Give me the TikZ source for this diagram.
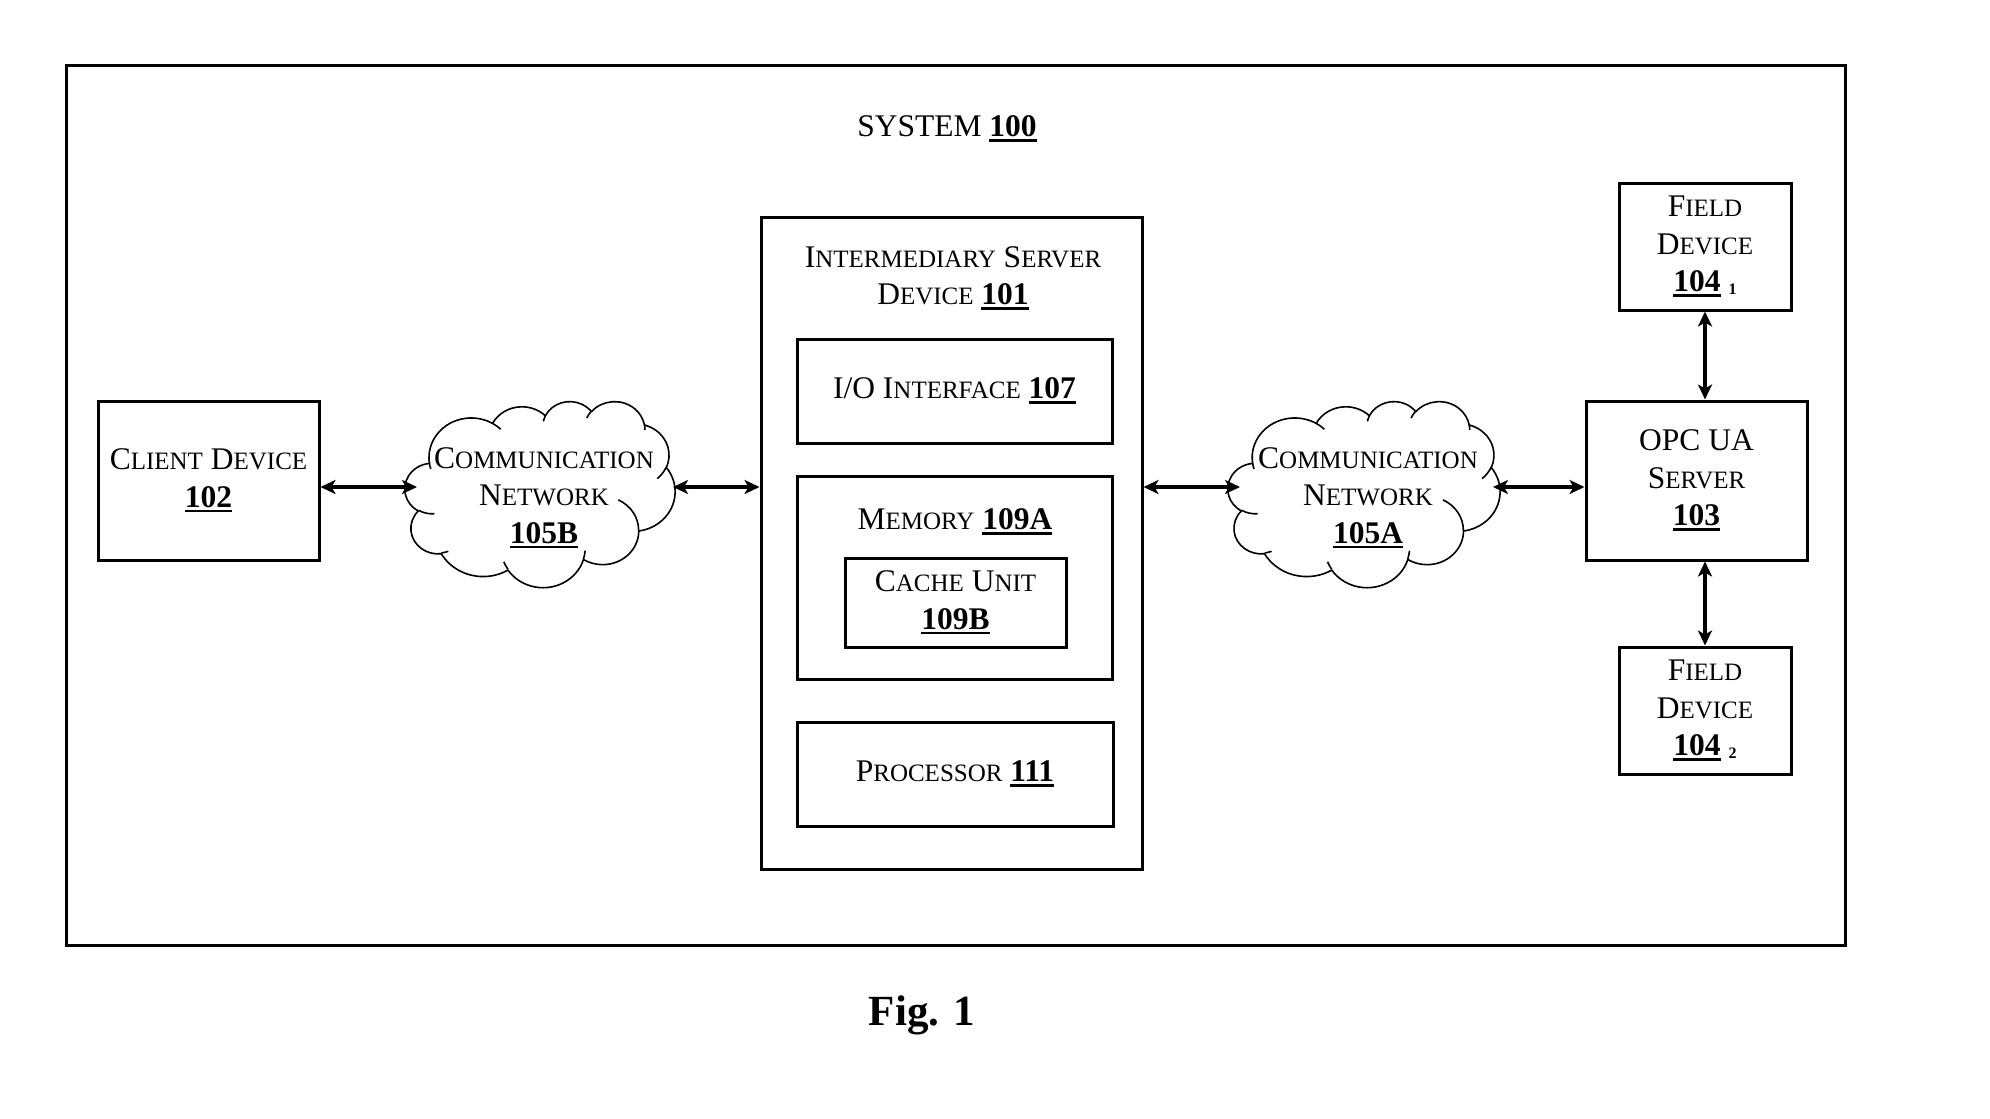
\documentclass[tikz,border=0pt]{standalone}
\usepackage{fontspec}
\setmainfont{Liberation Serif}
\usetikzlibrary{arrows.meta}
\newsavebox\rnbox
\newcommand\rn[1]{\sbox\rnbox{\bfseries #1}\rlap{\rule[-5pt]{\wd\rnbox}{2.5pt}}\usebox\rnbox}
\newcommand\mysc[2]{#1{\fontsize{25}{25}\selectfont #2}}
\newcommand\subsc[1]{\hspace{8pt}\raisebox{-3pt}{\fontsize{16}{16}\selectfont\bfseries #1}}
% elliptical arc with DrawingML-style (visual) angles
\newcommand\carc[4]{arc[x radius=#1, y radius=#2,
  start angle={atan2((#1)*sin(#3),(#2)*cos(#3))},
  delta angle={mod(atan2((#1)*sin((#3)+(#4)),(#2)*cos((#3)+(#4)))-atan2((#1)*sin(#3),(#2)*cos(#3))+720,360)}]}
\newcommand\cloudmain{(39.00,143.70)
  \carc{67.53}{91.90}{-190.4875}{123.7805}
  \carc{53.33}{72.67}{-144.1024}{89.9452}
  \carc{43.65}{59.45}{-145.8079}{99.7230}
  \carc{48.57}{65.95}{-130.9861}{117.2417}
  \carc{53.33}{72.73}{-78.7089}{109.0269}
  \carc{67.75}{92.20}{-46.2673}{130.2690}
  \carc{57.85}{78.67}{0.6250}{114.0333}
  \carc{67.52}{92.15}{22.4516}{115.1726}
  \carc{77.20}{105.43}{66.2426}{75.7110}
  \carc{43.60}{59.18}{-274.9421}{146.7356}
  \carc{43.45}{59.45}{-246.8285}{152.5320} -- cycle}
\newcommand\cloudinner{
  (46.93,261.77) \carc{43.45}{59.45}{86.7420}{26.4295}
  (69.28,348.99) \carc{43.60}{59.18}{73.6105}{11.4475}
  (164.78,390.90) \carc{67.52}{92.15}{137.6242}{14.0811}
  (288.27,347.51) \carc{67.52}{92.15}{6.4533}{15.9984}
  (341.29,229.54) \carc{57.85}{78.67}{-70.2924}{70.9174}
  (417.98,153.54) \carc{53.33}{72.73}{30.3180}{27.7515}
  (383.24,54.26) \carc{48.57}{65.95}{-13.7443}{14.8635}
  (290.78,39.52) \carc{48.57}{65.95}{-149.1815}{18.1842}
  (221.41,47.20) \carc{43.65}{59.45}{-163.4943}{17.6932}
  (140.00,51.92) \carc{67.53}{91.90}{-66.7070}{12.3194}
  (41.27,157.89) \carc{67.53}{91.90}{157.6544}{11.8582}}
\begin{document}
\begin{tikzpicture}[x=1pt,y=-1pt,
  every node/.style={font=\fontsize{31.5}{37.5}\selectfont, align=center, inner sep=0pt},
  box/.style={draw, line width=3pt},
  arr/.style={line width=3.2pt, {Stealth[length=15pt,width=14pt,inset=4pt]}-{Stealth[length=15pt,width=14pt,inset=4pt]}},
  cloudline/.style={line width=1.6pt, line join=round}
]
\useasboundingbox (0,0) rectangle (1990,1119);
% outer frame
\node[box, minimum width=1779pt, minimum height=880pt] (frame) at (955.5,505) {};
\node (systitle) at (947,129) {SYSTEM \rn{100}};
% client
\node[box, minimum width=221pt, minimum height=159pt] (client) at (208.5,480.5)
  {\mysc{C}{LIENT} \mysc{D}{EVICE}\\\rn{102}};
% cloud B
\begin{scope}[shift={(405,401)}, x=0.625pt, y=-0.4306pt, cloudline]
  \draw \cloudmain;
  \draw \cloudinner;
\end{scope}
\coordinate (cloudBw) at (417,487);
\coordinate (cloudBe) at (673,487);
\node (cloudBtxt) at (544,498) {\mysc{C}{OMMUNICATION}\\\mysc{N}{ETWORK}\\\rn{105B}};
% intermediary
\node[box, minimum width=381pt, minimum height=652pt] (inter) at (951.5,543) {};
\node (intertitle) at (953,278) {\mysc{I}{NTERMEDIARY} \mysc{S}{ERVER}\\\mysc{D}{EVICE} \rn{101}};
\node[box, minimum width=315pt, minimum height=104pt] (io) at (954.5,391)
  {I/O \mysc{I}{NTERFACE} \rn{107}};
\node[box, minimum width=315pt, minimum height=203pt] (mem) at (954.5,577.5) {};
\node (memtxt) at (955,522) {\mysc{M}{EMORY} \rn{109A}};
\node[box, minimum width=221pt, minimum height=89pt] (cache) at (955.5,602.5)
  {\mysc{C}{ACHE} \mysc{U}{NIT}\\\rn{109B}};
\node[box, minimum width=316pt, minimum height=104pt] (proc) at (955,774)
  {\mysc{P}{ROCESSOR} \rn{111}};
% cloud A
\begin{scope}[shift={(1228,401)}, x=0.6296pt, y=-0.4306pt, cloudline]
  \draw \cloudmain;
  \draw \cloudinner;
\end{scope}
\coordinate (cloudAw) at (1240,487);
\coordinate (cloudAe) at (1493,487);
\node (cloudAtxt) at (1368,498) {\mysc{C}{OMMUNICATION}\\\mysc{N}{ETWORK}\\\rn{105A}};
% OPC
\node[box, minimum width=221pt, minimum height=159pt] (opc) at (1696.5,480.5)
  {OPC UA\\\mysc{S}{ERVER}\\\rn{103}};
\node[box, minimum width=172pt, minimum height=127pt] (field1) at (1705,246.5)
  {\mysc{F}{IELD}\\\mysc{D}{EVICE}\\\rn{104}\subsc{1}};
\node[box, minimum width=172pt, minimum height=127pt] (field2) at (1705,710.5)
  {\mysc{F}{IELD}\\\mysc{D}{EVICE}\\\rn{104}\subsc{2}};
% connectors
\draw[arr] (client.east |- cloudBw) -- (cloudBw);
\draw[arr] (cloudBe) -- (inter.west |- cloudBe);
\draw[arr] (inter.east |- cloudAw) -- (cloudAw);
\draw[arr] (cloudAe) -- (opc.west |- cloudAe);
\draw[arr] (field1.south) -- (field1.south |- opc.north);
\draw[arr] (field2.north |- opc.south) -- (field2.north);
% caption
\node (fig) at (922,1015) {\fontsize{43}{48}\selectfont\bfseries Fig. 1};
\end{tikzpicture}
\end{document}
